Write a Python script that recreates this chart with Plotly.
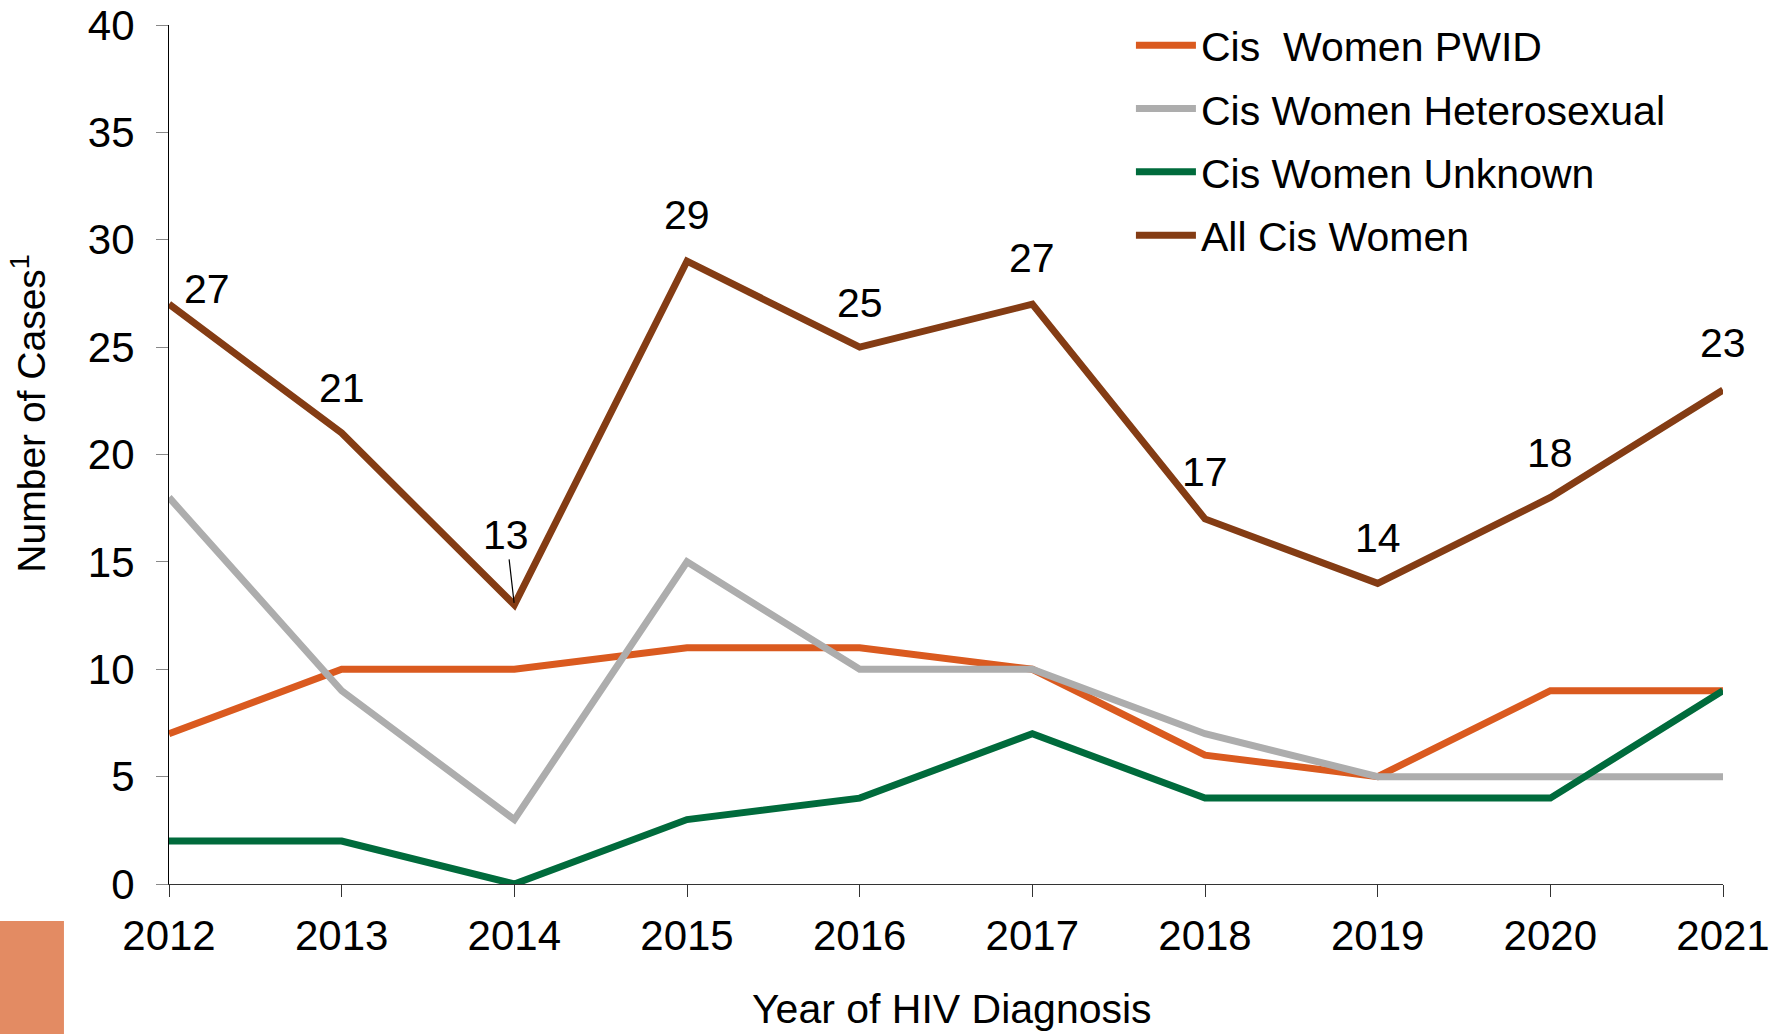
import plotly.graph_objects as go

years = [2012, 2013, 2014, 2015, 2016, 2017, 2018, 2019, 2020, 2021]
pwid = [7, 10, 10, 11, 11, 10, 6, 5, 9, 9]
hetero = [18, 9, 3, 15, 10, 10, 7, 5, 5, 5]
unknown = [2, 2, 0, 3, 4, 7, 4, 4, 4, 9]
all_women = [27, 21, 13, 29, 25, 27, 17, 14, 18, 23]

series_names = ["Cis  Women PWID", "Cis Women Heterosexual", "Cis Women Unknown", "All Cis Women"]
series_colors = ["#DA5A1F", "#ADADAD", "#006B3C", "#843C14"]
series_values = [pwid, hetero, unknown, all_women]

# label offsets (pixels) for data labels of "All Cis Women"
label_dx = [38, 0, -8, 0, 0, 0, 0, 0, 0, 0]
label_dy = [15, 45, 70, 46, 44, 46, 47, 45, 44, 47]

FONT = "Liberation Sans, Arial, Helvetica, sans-serif"
FS = 41

fig = go.Figure()
for i, (name, color, vals) in enumerate(zip(series_names, series_colors, series_values)):
    fig.add_trace(go.Scatter(
        x=years, y=vals, name=name, mode="lines",
        line=dict(color=color, width=7),
        legendgroup=f"g{i}", cliponaxis=False,
    ))

for i, (yr, v) in enumerate(zip(years, all_women)):
    if i == 2:
        fig.add_annotation(x=yr, y=v, xref="x", yref="y", text=str(v),
                           showarrow=True, arrowhead=0, arrowwidth=1.2, arrowcolor="black",
                           ax=label_dx[i], ay=-label_dy[i], standoff=2,
                           font=dict(family=FONT, size=FS, color="black"))
    else:
        fig.add_annotation(x=yr, y=v, xref="x", yref="y", text=str(v),
                           showarrow=False, xshift=label_dx[i], yshift=label_dy[i],
                           font=dict(family=FONT, size=FS, color="black"))

# axis titles as annotations
fig.add_annotation(x=0.504, y=-0.145, xref="paper", yref="paper", text="Year of HIV Diagnosis",
                   showarrow=False, xanchor="center", yanchor="middle",
                   font=dict(family=FONT, size=FS, color="black"))
fig.add_annotation(x=-0.0905, y=0.548, xref="paper", yref="paper", text="Number of Cases<sup>1</sup>",
                   showarrow=False, textangle=-90, xanchor="center", yanchor="middle",
                   font=dict(family=FONT, size=39, color="black"))

# decorative orange block at bottom-left
fig.add_shape(type="rect", xref="paper", yref="paper",
              x0=-0.1088, x1=-0.0676, y0=-0.1746, y1=-0.0431,
              fillcolor="#E38B63", line=dict(width=0), layer="above")

fig.update_layout(
    width=1782, height=1034,
    margin=dict(l=169, r=59, t=25, b=150, autoexpand=False),
    paper_bgcolor="white", plot_bgcolor="white",
    font=dict(family=FONT, size=FS, color="black"),
    showlegend=True,
    legend=dict(x=0.619, y=1.015, xanchor="left", yanchor="top",
                font=dict(family=FONT, size=FS, color="black"),
                bgcolor="rgba(0,0,0,0)", tracegroupgap=7, itemwidth=60),
    xaxis=dict(range=[2012, 2021], tickvals=years, ticktext=[str(y) for y in years],
               showgrid=False, zeroline=False, showline=True, linecolor="#333", linewidth=1.2,
               ticks="outside", ticklen=12, tickcolor="#333", tickwidth=1.2,
               ticklabelstandoff=2, ticklabeloverflow="allow",
               tickfont=dict(family=FONT, size=42, color="black")),
    yaxis=dict(range=[0, 40], dtick=5, showgrid=False, zeroline=False,
               showline=True, linecolor="black", linewidth=1.2,
               ticks="outside", ticklen=12, tickcolor="#888", tickwidth=1.2,
               ticklabelstandoff=13, ticklabeloverflow="allow",
               tickfont=dict(family=FONT, size=42, color="black")),
)

fig.write_html("out.html",
               config={"displayModeBar": False},
               post_script="document.body.style.margin='0';document.body.style.overflow='hidden';")
